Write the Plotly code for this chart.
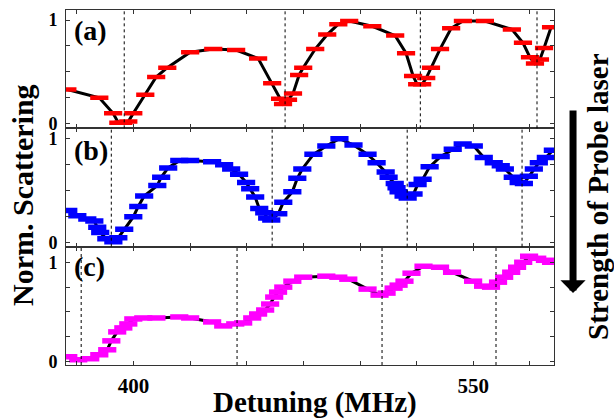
import plotly.graph_objects as go
from plotly.subplots import make_subplots

# ---------------- data ----------------
det_a = [370.8, 384.9, 391.0, 393.3, 395.5, 397.7, 399.9, 405.2, 410.0, 414.9, 425.0, 435.2,
         445.3, 455.0, 461.2, 464.7, 466.0, 468.2, 470.4, 473.1, 474.9, 480.2, 485.5, 490.4,
         495.2, 505.4, 515.5, 520.3, 523.4, 525.2, 527.4, 529.2, 531.3, 535.3, 540.2, 545.4,
         555.1, 567.0, 571.9, 575.0, 577.2, 579.4, 581.2, 584.3]
sc_a = [0.33, 0.25, 0.10, 0.01, 0.01, 0.02, 0.10, 0.28, 0.45, 0.54, 0.69, 0.72,
        0.71, 0.63, 0.39, 0.24, 0.19, 0.23, 0.29, 0.47, 0.54, 0.72, 0.86, 0.96,
        0.99, 0.94, 0.85, 0.68, 0.46, 0.38, 0.38, 0.44, 0.54, 0.72, 0.92, 0.99,
        0.99, 0.91, 0.78, 0.64, 0.58, 0.62, 0.73, 0.93]

det_b = [371.2, 375.2, 379.6, 382.7, 384.0, 385.3, 388.0, 391.1, 393.3, 395.9, 399.9, 402.1,
         404.7, 410.5, 412.2, 415.3, 420.2, 425.0, 434.7, 440.0, 443.1, 446.6, 449.7, 451.5,
         453.7, 455.5, 457.7, 459.0, 460.8, 463.9, 466.1, 470.1, 472.3, 474.5, 479.4, 485.1,
         490.9, 497.1, 503.3, 507.3, 511.3, 512.6, 515.3, 516.1, 517.0, 519.2, 521.0, 523.6,
         525.4, 527.6, 530.7, 535.6, 540.9, 545.3, 550.2, 554.6, 559.0, 562.1, 563.9, 567.4,
         570.0, 572.3, 574.5, 576.7, 578.9, 582.0, 585.1]
sc_b = [0.31, 0.26, 0.23, 0.21, 0.15, 0.10, 0.04, 0.01, 0.05, 0.13, 0.25, 0.35,
        0.45, 0.55, 0.63, 0.72, 0.79, 0.79, 0.78, 0.75, 0.71, 0.66, 0.58, 0.52,
        0.44, 0.33, 0.29, 0.24, 0.22, 0.28, 0.39, 0.49, 0.62, 0.71, 0.85, 0.93,
        1.00, 0.94, 0.85, 0.77, 0.68, 0.63, 0.57, 0.53, 0.49, 0.45, 0.43, 0.47,
        0.56, 0.61, 0.73, 0.83, 0.90, 0.95, 0.93, 0.82, 0.77, 0.74, 0.71, 0.63,
        0.58, 0.57, 0.64, 0.71, 0.77, 0.82, 0.89]

det_c = [371.2, 375.6, 380.9, 384.9, 388.4, 390.2, 392.8, 395.5, 397.7, 399.9, 404.3, 410.1,
         420.2, 425.0, 434.7, 439.6, 444.9, 448.4, 452.4, 455.0, 458.1, 460.3, 462.1, 463.8,
         466.1, 470.1, 474.9, 485.1, 490.4, 494.8, 503.3, 508.6, 511.7, 514.8, 517.0, 519.6,
         522.7, 528.0, 535.3, 540.6, 549.9, 554.3, 557.8, 560.9, 563.6, 566.7, 569.3, 572.0,
         574.6, 578.2, 581.6, 584.3]
sc_c = [0.05, 0.02, 0.03, 0.07, 0.12, 0.21, 0.30, 0.34, 0.38, 0.43, 0.44, 0.44,
        0.45, 0.44, 0.40, 0.36, 0.38, 0.39, 0.44, 0.48, 0.52, 0.58, 0.65, 0.70,
        0.75, 0.81, 0.85, 0.86, 0.85, 0.83, 0.73, 0.67, 0.69, 0.74, 0.77, 0.81,
        0.89, 0.96, 0.95, 0.90, 0.81, 0.76, 0.75, 0.80, 0.85, 0.90, 0.95, 1.00,
        1.06, 1.04, 1.02, 1.00]

res_a = [395.9, 466.9, 526.6, 578.1]
res_b = [390.2, 461.2, 520.8, 571.5]
res_c = [376.9, 445.7, 509.7, 560.0]

panel_labels = ["(a)", "(b)", "(c)"]
x_ticks = [375, 400, 425, 450, 475, 500, 525, 550, 575]
x_ticktext = ["", "<b>400</b>", "", "", "", "", "", "<b>550</b>", ""]
y_ticks = [0, 0.25, 0.5, 0.75, 1]
y_ticktext = ["<b>0</b>", "", "", "", "<b>1</b>"]

colors = ["#ff0000", "#0000ff", "#ff00ff"]
y_ranges = [[-0.045, 1.097], [-0.036, 1.10], [-0.033, 1.157]]

FONT = "Liberation Serif, Times New Roman, Times, serif"

fig = make_subplots(rows=3, cols=1, shared_xaxes=True, vertical_spacing=0)

series = [(det_a, sc_a, res_a), (det_b, sc_b, res_b), (det_c, sc_c, res_c)]
for i, (xs, ys, res) in enumerate(series):
    row = i + 1
    fig.add_trace(go.Scatter(x=xs, y=ys, mode="lines",
                             line=dict(color="black", width=3),
                             showlegend=False, hoverinfo="skip"), row=row, col=1)
    mw = 4.5 if i == 0 else 5.5
    fig.add_trace(go.Scatter(x=xs, y=ys, mode="markers",
                             marker=dict(symbol="line-ew", size=13,
                                         line=dict(color=colors[i], width=mw)),
                             showlegend=False), row=row, col=1)
    yref = "y" if row == 1 else f"y{row}"
    xref = "x" if row == 1 else f"x{row}"
    for r in res:
        fig.add_shape(type="line", xref=xref, yref=f"{yref} domain", x0=r, x1=r, y0=0, y1=1,
                      line=dict(color="black", width=1, dash="dot"))
    fig.add_annotation(text=f"<b>{panel_labels[i]}</b>", xref=f"{xref} domain",
                       yref=f"{yref} domain", x=0.012, y=[0.83, 0.81, 0.83][i],
                       xanchor="left", yanchor="middle", showarrow=False,
                       font=dict(family=FONT, size=28, color="black"))
    fig.update_yaxes(range=y_ranges[i], tickvals=y_ticks, ticktext=y_ticktext,
                     ticks="inside", ticklen=4, tickcolor="#333", showline=True,
                     linecolor="#333", linewidth=1, mirror="ticks", showgrid=False,
                     zeroline=False, tickfont=dict(family=FONT, size=18, color="black"),
                     ticklabelstandoff=4, row=row, col=1)
    fig.update_xaxes(range=[370.2, 585.6], tickvals=x_ticks, ticktext=x_ticktext,
                     ticks="inside", ticklen=4, tickcolor="#333", showline=True,
                     linecolor="#333", linewidth=1, mirror="ticks", showgrid=False,
                     zeroline=False, tickfont=dict(family=FONT, size=21, color="black"),
                     ticklabelstandoff=2, row=row, col=1)

fig.update_xaxes(showticklabels=True, row=3, col=1)

# axis titles as annotations
fig.add_annotation(text="<b>Norm. Scattering</b>", xref="paper", yref="paper",
                   x=-0.088, y=0.479, xanchor="center", yanchor="middle",
                   textangle=-90, showarrow=False,
                   font=dict(family=FONT, size=30, color="black"))
fig.add_annotation(text="<b>Detuning (MHz)</b>", xref="paper", yref="paper",
                   x=0.51, y=-0.107, xanchor="center", yanchor="middle", showarrow=False,
                   font=dict(family=FONT, size=29, color="black"))
fig.add_annotation(text="<b>Strength of Probe laser</b>", xref="paper", yref="paper",
                   x=1.090, y=0.476, xanchor="center", yanchor="middle",
                   textangle=-90, showarrow=False,
                   font=dict(family=FONT, size=29, color="black"))
fig.add_annotation(text="", xref="paper", yref="paper", axref="pixel", ayref="pixel",
                   x=1.039, y=0.203, ax=0, ay=-184, showarrow=True,
                   arrowhead=1, arrowsize=0.6, arrowwidth=7, arrowcolor="black",
                   standoff=0, startstandoff=0)

fig.update_layout(width=614, height=420, margin=dict(l=66, r=60, t=10, b=55),
                  plot_bgcolor="white", paper_bgcolor="white")

fig.write_html("out.html", config={"displayModeBar": False},
               post_script="document.body.style.margin='0';document.body.style.overflow='hidden';")
